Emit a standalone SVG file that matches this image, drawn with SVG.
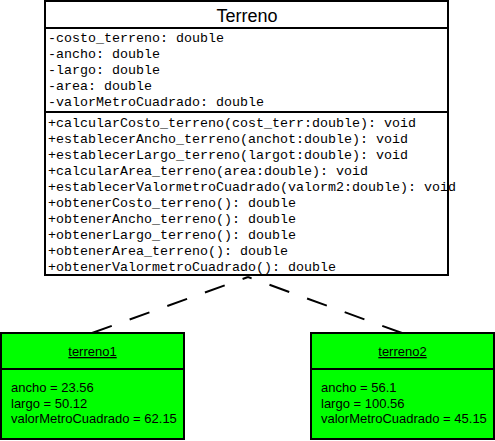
<svg xmlns="http://www.w3.org/2000/svg" width="495" height="441" viewBox="0 0 495 441">
<style>
.box{fill:#ffffff;stroke:#000000;stroke-width:2}
.obj{fill:#00ff00;stroke:#000000;stroke-width:2}
.sep{stroke:#000000;stroke-width:2}
.title{font-family:"Liberation Sans",Arial,sans-serif;font-size:18px;fill:#000;text-anchor:middle}
.mono{font-family:"Liberation Mono","Courier New",monospace;font-size:13.33px;fill:#000}
.oname{font-family:"Liberation Sans",Arial,sans-serif;font-size:13px;fill:#000;text-anchor:middle;text-decoration:underline}
.oval{font-family:"Liberation Sans",Arial,sans-serif;font-size:13px;fill:#000}
.dep{fill:none;stroke:#000000;stroke-width:2;stroke-dasharray:21 19}
</style>
<rect width="495" height="441" fill="#ffffff"/>
<g id="connectors">
<line class="dep" x1="92" y1="333" x2="248" y2="277"/>
<line class="dep" x1="402" y1="333" x2="248" y2="277"/>
</g>
<g id="Terreno">
<rect class="box" x="45" y="1" width="403" height="274"/>
<line class="sep" x1="45" y1="28" x2="448" y2="28"/>
<line class="sep" x1="45" y1="112" x2="448" y2="112"/>
<text class="title" x="247" y="22">Terreno</text>
<text class="mono" x="48" y="42">-costo_terreno: double</text>
<text class="mono" x="48" y="58">-ancho: double</text>
<text class="mono" x="48" y="74">-largo: double</text>
<text class="mono" x="48" y="90">-area: double</text>
<text class="mono" x="48" y="106">-valorMetroCuadrado: double</text>
<text class="mono" x="48" y="127">+calcularCosto_terreno(cost_terr:double): void</text>
<text class="mono" x="48" y="143">+establecerAncho_terreno(anchot:double): void</text>
<text class="mono" x="48" y="159">+establecerLargo_terreno(largot:double): void</text>
<text class="mono" x="48" y="175">+calcularArea_terreno(area:double): void</text>
<text class="mono" x="48" y="191">+establecerValormetroCuadrado(valorm2:double): void</text>
<text class="mono" x="48" y="207">+obtenerCosto_terreno(): double</text>
<text class="mono" x="48" y="223">+obtenerAncho_terreno(): double</text>
<text class="mono" x="48" y="239">+obtenerLargo_terreno(): double</text>
<text class="mono" x="48" y="255">+obtenerArea_terreno(): double</text>
<text class="mono" x="48" y="271">+obtenerValormetroCuadrado(): double</text>
</g>
<g id="terreno1">
<rect class="obj" x="1" y="333" width="183" height="106"/>
<line class="sep" x1="1" y1="369" x2="184" y2="369"/>
<text class="oname" x="92.5" y="356">terreno1</text>
<text class="oval" x="11" y="392">ancho = 23.56</text>
<text class="oval" x="11" y="407.5">largo = 50.12</text>
<text class="oval" x="11" y="423">valorMetroCuadrado = 62.15</text>
</g>
<g id="terreno2">
<rect class="obj" x="311" y="333" width="183" height="106"/>
<line class="sep" x1="311" y1="369" x2="494" y2="369"/>
<text class="oname" x="402.5" y="356">terreno2</text>
<text class="oval" x="321" y="392">ancho = 56.1</text>
<text class="oval" x="321" y="407.5">largo = 100.56</text>
<text class="oval" x="321" y="423">valorMetroCuadrado = 45.15</text>
</g>
</svg>
